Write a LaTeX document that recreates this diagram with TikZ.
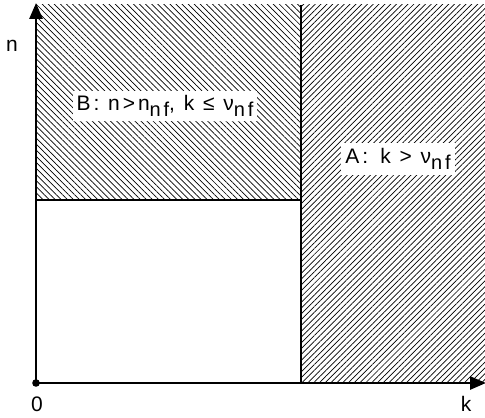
\documentclass[tikz,border=0pt]{standalone}
\usepackage{fontspec}
\setmainfont{Liberation Sans}
\newfontfamily\labfont[LetterSpace=14]{Liberation Sans}
\usetikzlibrary{patterns.meta,arrows.meta}
\newcommand{\subnf}{\raisebox{-0.3em}{\fontsize{20}{20}\selectfont nf}}
\begin{document}
\begin{tikzpicture}[x=1pt,y=1pt,
  axis/.style={line width=2.8pt,-{Triangle[length=16pt,width=13pt]}},
  border/.style={line width=1.8pt},
  hatchB/.style={pattern={Lines[angle=-45,distance=4.3pt,line width=0.7pt]}},
  hatchA/.style={pattern={Lines[angle=45,distance=4.1pt,line width=0.7pt]}},
  lab/.style={fill=white,inner sep=4pt,font=\labfont\fontsize{21}{21}\selectfont},
  axlab/.style={font=\labfont\fontsize{21}{21}\selectfont}]
\useasboundingbox (0,0) rectangle (485,418);
\fill[hatchB] (36,218) rectangle (301,413);
\fill[hatchA] (301,35) rectangle (485,413);
\coordinate (O) at (36,35);
\coordinate (ytop) at (36,415);
\coordinate (xend) at (486,35);
\coordinate (vtop) at (301,413);
\coordinate (vbot) at (301,35);
\coordinate (hl) at (36,218);
\coordinate (hr) at (301,218);
\draw[border] (vbot) -- (vtop);
\draw[border] (hl) -- (hr);
\draw[axis] (O) -- (ytop);
\draw[axis] (O) -- (xend);
\fill (O) circle (3.8pt);
\node[axlab] (nl) at (12,372) {n};
\node[axlab] (zl) at (37,14) {0};
\node[axlab] (kl) at (466,14) {k};
\node[lab,minimum height=28pt] (B) at (165,312) {B: n>n\subnf, k ≤ ν\subnf};
\node[lab,minimum height=32pt] (A) at (398,259) {A:\, k > ν\subnf};
\end{tikzpicture}
\end{document}
